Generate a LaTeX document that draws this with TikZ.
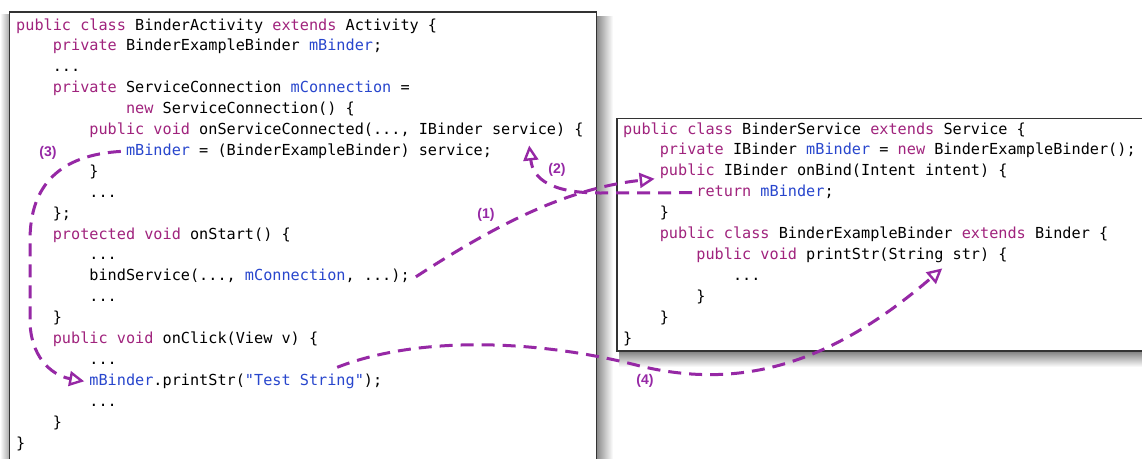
\documentclass[tikz,border=0pt]{standalone}
\usepackage{fontspec}
\setmonofont{DejaVu Sans Mono}
\setsansfont{Liberation Sans}
\usetikzlibrary{arrows.meta,calc}
\definecolor{kwc}{RGB}{160,35,125}
\definecolor{idc}{RGB}{40,70,205}
\definecolor{arc}{RGB}{150,40,165}
\newcommand{\kw}[1]{\textcolor{kwc}{#1}}
\newcommand{\idn}[1]{\textcolor{idc}{#1}}
\begin{document}
\begin{tikzpicture}[x=1pt,y=-1pt,
  code/.style={anchor=base west,inner sep=0pt,font=\ttfamily\fontsize{15.2}{18}\selectfont},
  codebox/.style={draw=black!80,line width=1.5pt,fill=white},
  flow/.style={draw=arc,line width=3pt,dash pattern=on 13pt off 8pt,
    -{Triangle[open,length=15pt,width=15pt,line width=2.4pt]}},
  flowlabel/.style={text=arc,font=\sffamily\bfseries\fontsize{14}{16}\selectfont,inner sep=0pt}]
\useasboundingbox (0,0) rectangle (1142,458);
\clip (0,0) rectangle (1142,458);
\fill[white] (0,0) rectangle (1142,458);

% shadows
\shade[left color=white,right color=black!35] (0,14) rectangle (9.5,470);
\shade[left color=black!45,right color=white] (597,16) rectangle (613,470);
\shade[top color=black!50,bottom color=white] (619,351) rectangle (1160,367);

% boxes
\draw[codebox] (9.5,12) rectangle (596.5,475);
\draw[codebox] (617,118.5) rectangle (1170,351);

% left code
\node[code] (L1)  at (16,30)     {\kw{public class} BinderActivity \kw{extends} Activity \{};
\node[code] (L2)  at (52.6,50.9) {\kw{private} BinderExampleBinder \idn{mBinder};};
\node[code] (L3)  at (52.6,71.8) {...};
\node[code] (L4)  at (52.6,92.7) {\kw{private} ServiceConnection \idn{mConnection} =};
\node[code] (L5)  at (125.8,113.6) {\kw{new} ServiceConnection() \{};
\node[code] (L6)  at (89.2,134.5) {\kw{public void} onServiceConnected(..., IBinder service) \{};
\node[code] (L7)  at (125.8,155.4) {\idn{mBinder} = (BinderExampleBinder) service;};
\node[code] (L8)  at (89.2,176.3) {\}};
\node[code] (L9)  at (89.2,197.2) {...};
\node[code] (L10) at (52.6,218.1) {\};};
\node[code] (L11) at (52.6,239)   {\kw{protected void} onStart() \{};
\node[code] (L12) at (89.2,259.9) {...};
\node[code] (L13) at (89.2,280.8) {bindService(..., \idn{mConnection}, ...);};
\node[code] (L14) at (89.2,301.7) {...};
\node[code] (L15) at (52.6,322.6) {\}};
\node[code] (L16) at (52.6,343.5) {\kw{public void} onClick(View v) \{};
\node[code] (L17) at (89.2,364.4) {...};
\node[code] (L18) at (89.2,385.3) {\idn{mBinder}.printStr(\idn{"Test String"});};
\node[code] (L19) at (89.2,406.2) {...};
\node[code] (L20) at (52.6,427.1) {\}};
\node[code] (L21) at (16,448)     {\}};

% right code
\node[code] (R1)  at (623,134)     {\kw{public class} BinderService \kw{extends} Service \{};
\node[code] (R2)  at (659.6,154.9) {\kw{private} IBinder \idn{mBinder} = \kw{new} BinderExampleBinder();};
\node[code] (R3)  at (659.6,175.8) {\kw{public} IBinder onBind(Intent intent) \{};
\node[code] (R4)  at (696.2,196.7) {\kw{return} \idn{mBinder};};
\node[code] (R5)  at (659.6,217.6) {\}};
\node[code] (R6)  at (659.6,238.5) {\kw{public class} BinderExampleBinder \kw{extends} Binder \{};
\node[code] (R7)  at (696.2,259.4) {\kw{public void} printStr(String str) \{};
\node[code] (R8)  at (732.8,280.3) {...};
\node[code] (R9)  at (696.2,301.2) {\}};
\node[code] (R10) at (659.6,322.1) {\}};
\node[code] (R11) at (623,343)     {\}};

% connector ends
\coordinate (s1) at ($(L13.base east)+(6,-4)$);
\coordinate (e1) at ($(R3.base west)+(-5,3)$);
\coordinate (s2) at ($(R4.base west)+(-4,-4)$);
\coordinate (e2) at ($(L6.base west)+(440,11)$);
\coordinate (s3) at ($(L7.base west)+(-5,-4)$);
\coordinate (e3) at ($(L18.base west)+(-5,-4)$);
\coordinate (s4) at ($(L18.base west)+(248,-18)$);
\coordinate (e4) at ($(R7.base west)+(246,9)$);

% connectors
\draw[flow] (s1) .. controls (500,222) and (570,188) .. (e1);
\draw[flow] (s2) -- (600,193) .. controls (553,193) and (533,180) .. (e2);
\draw[flow] (s3) .. controls (60,155) and (30,185) .. (30,240) -- (30,320)
  .. controls (30,355) and (50,375) .. (e3);
\draw[flow] (s4) .. controls (420,335) and (540,340) .. (640,366)
  .. controls (740,390) and (830,365) .. (e4);

% labels
\node[flowlabel] (n1) at (486,215) {(1)};
\node[flowlabel] (n2) at (557,170) {(2)};
\node[flowlabel] (n3) at (48,153) {(3)};
\node[flowlabel] (n4) at (645,381) {(4)};
\end{tikzpicture}
\end{document}
